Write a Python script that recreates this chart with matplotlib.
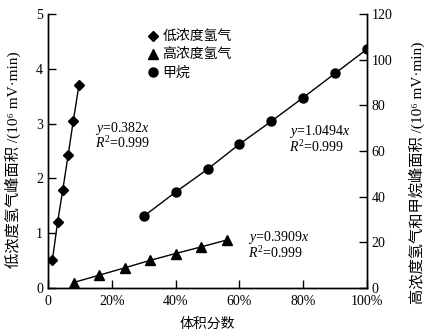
"""
Peak area vs volume fraction for hydrogen and methane
"""

import matplotlib
matplotlib.use('Agg')
import matplotlib.pyplot as plt
from matplotlib.lines import Line2D

plt.rcParams['font.family'] = ['Liberation Serif', 'Noto Sans CJK SC']
plt.rcParams['mathtext.fontset'] = 'custom'
plt.rcParams['mathtext.rm'] = 'Liberation Serif'
plt.rcParams['mathtext.it'] = 'Liberation Serif:italic'

# Low-concentration hydrogen (left axis)
low_h2_x = [1.4, 3.0, 4.6, 6.3, 7.9, 9.7]
low_h2_y = [0.52, 1.20, 1.78, 2.42, 3.04, 3.70]

# High-concentration hydrogen (right axis)
high_h2_x = [8, 16, 24, 32, 40, 48, 56]
high_h2_y = [2.4, 5.6, 8.8, 12.1, 15.1, 18.0, 21.0]

# Methane (right axis)
ch4_x = [30, 40, 50, 60, 70, 80, 90, 100]
ch4_y = [31.4, 42.0, 52.0, 63.0, 73.0, 83.4, 94.0, 104.6]

x_ticks = [0, 20, 40, 60, 80, 100]
x_labels = ['0', '20%', '40%', '60%', '80%', '100%']
left_ticks = [0, 1, 2, 3, 4, 5]
right_ticks = [0, 20, 40, 60, 80, 100, 120]

fig = plt.figure(figsize=(4.29, 3.35), dpi=100)
ax = fig.add_axes([48 / 429, 47 / 335, 319 / 429, 274 / 335])
ax2 = ax.twinx()

tick_kw = dict(direction='in', length=6, width=1, labelsize=10)

ax.plot(low_h2_x, low_h2_y, color='black', lw=1, marker='D', ms=5)
ax2.plot(high_h2_x, high_h2_y, color='black', lw=1, marker='^', ms=6.5)
ax2.plot(ch4_x, ch4_y, color='black', lw=1, marker='o', ms=6.5)

ax.set_xlim(0, 100)
ax.set_ylim(0, 5)
ax2.set_ylim(0, 120)
ax.set_xticks(x_ticks)
ax.set_xticklabels(x_labels)
ax.set_yticks(left_ticks)
ax2.set_yticks(right_ticks)
ax.tick_params(axis='both', **tick_kw)
ax2.tick_params(axis='y', **tick_kw)
ax.tick_params(axis='x', pad=5)

for a in (ax, ax2):
    a.spines['top'].set_visible(False)
    for s in ('left', 'right', 'bottom'):
        a.spines[s].set_linewidth(1)

ax.set_xlabel('体积分数', fontsize=10, labelpad=7)
ax.set_ylabel('低浓度氢气峰面积 /(10⁶ mV·min)', fontsize=11)
ax2.set_ylabel('高浓度氢气和甲烷峰面积 /(10⁶ mV·min)', fontsize=11)
ax.yaxis.set_label_coords(-0.085, 0.47)
ax2.yaxis.set_label_coords(1.132, 0.42)

# Fit annotations
ax.text(14.8, 2.85, '$y$=0.382$x$', fontsize=10)
ax.text(14.8, 2.55, '$R^2$=0.999', fontsize=10)
ax2.text(75.5, 67, '$y$=1.0494$x$', fontsize=10)
ax2.text(75.5, 59.5, '$R^2$=0.999', fontsize=10)
ax2.text(62.8, 20.5, '$y$=0.3909$x$', fontsize=10)
ax2.text(62.8, 13, '$R^2$=0.999', fontsize=10)

handles = [
    Line2D([], [], color='black', marker='D', ms=5, ls='none'),
    Line2D([], [], color='black', marker='^', ms=6.5, ls='none'),
    Line2D([], [], color='black', marker='o', ms=6.5, ls='none'),
]
ax.legend(handles, ['低浓度氢气', '高浓度氢气', '甲烷'],
          loc='upper left', bbox_to_anchor=(0.285, 0.97), frameon=False,
          fontsize=10, handlelength=0.8, handletextpad=0.3,
          labelspacing=0.35, borderpad=0.1)

fig.savefig('out.png', dpi=100)
